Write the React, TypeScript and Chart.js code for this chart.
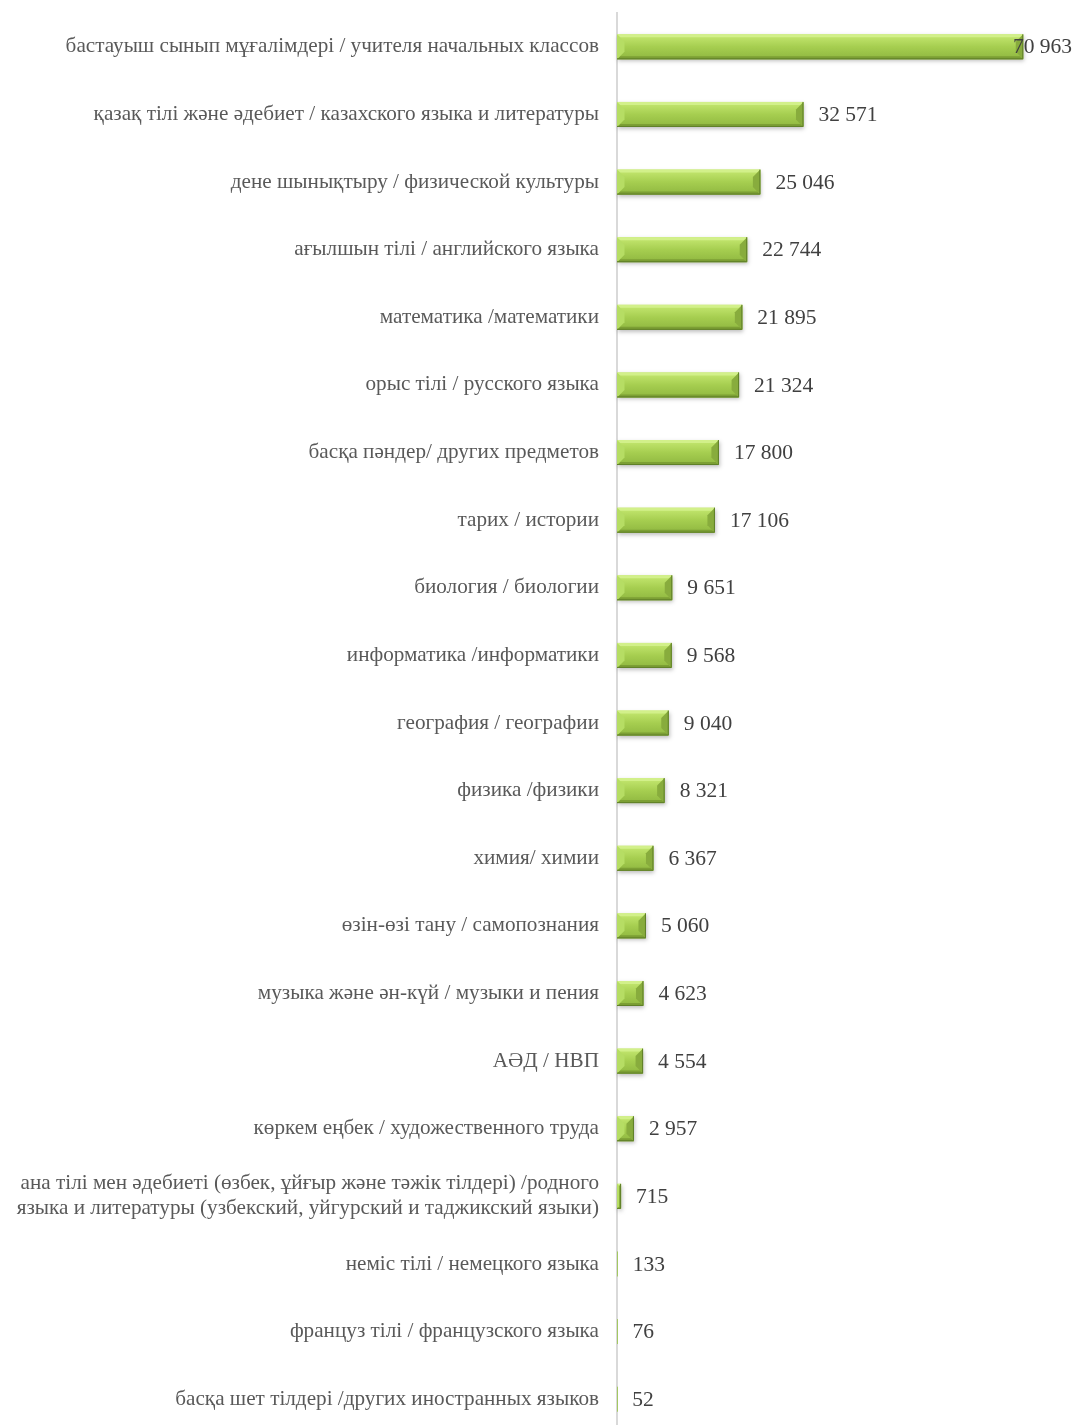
import React, { useEffect, useRef } from "react";
import { Chart, registerables } from "chart.js";

Chart.register(...registerables);

const categories: (string | string[])[] = [
  "бастауыш сынып мұғалімдері / учителя начальных классов",
  "қазақ тілі және әдебиет / казахского языка и литературы",
  "дене шынықтыру / физической культуры",
  "ағылшын тілі / английского языка",
  "математика /математики",
  "орыс тілі / русского языка",
  "басқа пәндер/ других предметов",
  "тарих / истории",
  "биология / биологии",
  "информатика /информатики",
  "география / географии",
  "физика /физики",
  "химия/ химии",
  "өзін-өзі тану / самопознания",
  "музыка және ән-күй / музыки и пения",
  "АӘД / НВП",
  "көркем еңбек / художественного труда",
  [
    "ана тілі мен әдебиеті (өзбек, ұйғыр және тәжік тілдері) /родного",
    "языка и литературы (узбекский, уйгурский и таджикский языки)",
  ],
  "неміс тілі / немецкого языка",
  "француз тілі / французского языка",
  "басқа шет тілдері /других иностранных языков",
];

const values = [
  70963, 32571, 25046, 22744, 21895, 21324, 17800, 17106, 9651, 9568, 9040,
  8321, 6367, 5060, 4623, 4554, 2957, 715, 133, 76, 52,
];

const axisMax = 80000;

const fmt = (n: number) =>
  n.toString().replace(/\B(?=(\d{3})+(?!\d))/g, " ");

const FONT = "'Liberation Serif', 'DejaVu Serif', serif";

const bevelPlugin = {
  id: "bevel",
  afterDatasetsDraw(chart: any) {
    const ctx: CanvasRenderingContext2D = chart.ctx;
    const meta = chart.getDatasetMeta(0);
    meta.data.forEach((el: any) => {
      const { x, y, base, height } = el.getProps(
        ["x", "y", "base", "height"],
        true
      );
      const left = Math.min(x, base);
      let w = Math.abs(x - base);
      const top = y - height / 2;
      const bot = y + height / 2;
      ctx.save();
      if (w < 2) {
        ctx.fillStyle = "#a3c862";
        ctx.fillRect(left, top, Math.max(w, 1), height);
        ctx.restore();
        return;
      }
      const right = left + w;
      const b = Math.min(height * 0.3, w / 2);
      const bt = Math.min(3, w / 2);
      ctx.shadowColor = "rgba(0,0,0,0.25)";
      ctx.shadowBlur = 4;
      ctx.shadowOffsetY = 2;
      ctx.shadowOffsetX = 1;
      const g = ctx.createLinearGradient(0, top, 0, bot);
      g.addColorStop(0, "#c6e972");
      g.addColorStop(0.5, "#a6ce50");
      g.addColorStop(1, "#8fb740");
      ctx.fillStyle = g;
      ctx.fillRect(left, top, w, height);
      ctx.shadowColor = "transparent";
      // top face (thin highlight)
      ctx.fillStyle = "#d2f08a";
      ctx.beginPath();
      ctx.moveTo(left, top);
      ctx.lineTo(right, top);
      ctx.lineTo(right - bt, top + bt);
      ctx.lineTo(left + bt, top + bt);
      ctx.closePath();
      ctx.fill();
      // bottom face
      ctx.fillStyle = "#7c9f34";
      ctx.beginPath();
      ctx.moveTo(left, bot);
      ctx.lineTo(right, bot);
      ctx.lineTo(right - bt, bot - bt);
      ctx.lineTo(left + bt, bot - bt);
      ctx.closePath();
      ctx.fill();
      // left face
      ctx.fillStyle = "#b6dd64";
      ctx.beginPath();
      ctx.moveTo(left, top);
      ctx.lineTo(left + b, top + b);
      ctx.lineTo(left + b, bot - b);
      ctx.lineTo(left, bot);
      ctx.closePath();
      ctx.fill();
      // right face
      ctx.fillStyle = "#88ac3d";
      ctx.beginPath();
      ctx.moveTo(right, top);
      ctx.lineTo(right - b, top + b);
      ctx.lineTo(right - b, bot - b);
      ctx.lineTo(right, bot);
      ctx.closePath();
      ctx.fill();
      // bottom edge
      ctx.strokeStyle = "#5f7f28";
      ctx.lineWidth = 1;
      ctx.beginPath();
      ctx.moveTo(left, bot - 0.5);
      ctx.lineTo(right - 0.5, bot - 0.5);
      ctx.lineTo(right - 0.5, top);
      ctx.stroke();
      ctx.restore();
    });
  },
};

const valueLabelPlugin = {
  id: "valueLabels",
  afterDatasetsDraw(chart: any) {
    const ctx: CanvasRenderingContext2D = chart.ctx;
    const meta = chart.getDatasetMeta(0);
    ctx.save();
    ctx.font = `21.5px ${FONT}`;
    ctx.fillStyle = "#404040";
    ctx.textBaseline = "middle";
    ctx.textAlign = "left";
    meta.data.forEach((el: any, i: number) => {
      const { x, y } = el.getProps(["x", "y"], true);
      const txt = fmt(values[i]);
      const tw = ctx.measureText(txt).width;
      let tx = x + 15;
      if (tx + tw > chart.width - 3) tx = chart.width - 3 - tw;
      ctx.fillText(txt, tx, y + 1);
    });
    ctx.restore();
  },
};

export default function App() {
  const ref = useRef<HTMLCanvasElement | null>(null);

  useEffect(() => {
    if (!ref.current) return;
    const chart = new Chart(ref.current, {
      type: "bar",
      data: {
        labels: categories,
        datasets: [
          {
            data: values,
            backgroundColor: "rgba(0,0,0,0)",
            borderWidth: 0,
            barThickness: 25,
          },
        ],
      },
      options: {
        indexAxis: "y",
        animation: false,
        responsive: true,
        maintainAspectRatio: false,
        layout: { padding: { top: 13, bottom: 7, left: 0, right: 0 } },
        plugins: {
          legend: { display: false },
          tooltip: { enabled: false },
          title: { display: false },
        },
        scales: {
          x: {
            display: false,
            min: 0,
            max: axisMax,
          },
          y: {
            afterFit: (scale: any) => {
              scale.width = 617;
              scale.paddingTop = 0;
              scale.paddingBottom = 0;
            },
            grid: { display: false, drawTicks: false },
            border: { display: true, color: "#d9d9d9", width: 2 },
            ticks: {
              padding: 18,
              color: "#595959",
              font: { family: FONT, size: 21.2, lineHeight: 1.18 },
              autoSkip: false,
            },
          },
        },
      },
      plugins: [bevelPlugin, valueLabelPlugin],
    });
    return () => chart.destroy();
  }, []);

  return (
    <div
      style={{
        position: "fixed",
        left: 0,
        top: 0,
        width: 1075,
        height: 1425,
        overflow: "hidden",
        background: "#fff",
      }}
    >
      <div style={{ position: "relative", width: 1075, height: 1440 }}>
        <canvas ref={ref} />
      </div>
    </div>
  );
}
